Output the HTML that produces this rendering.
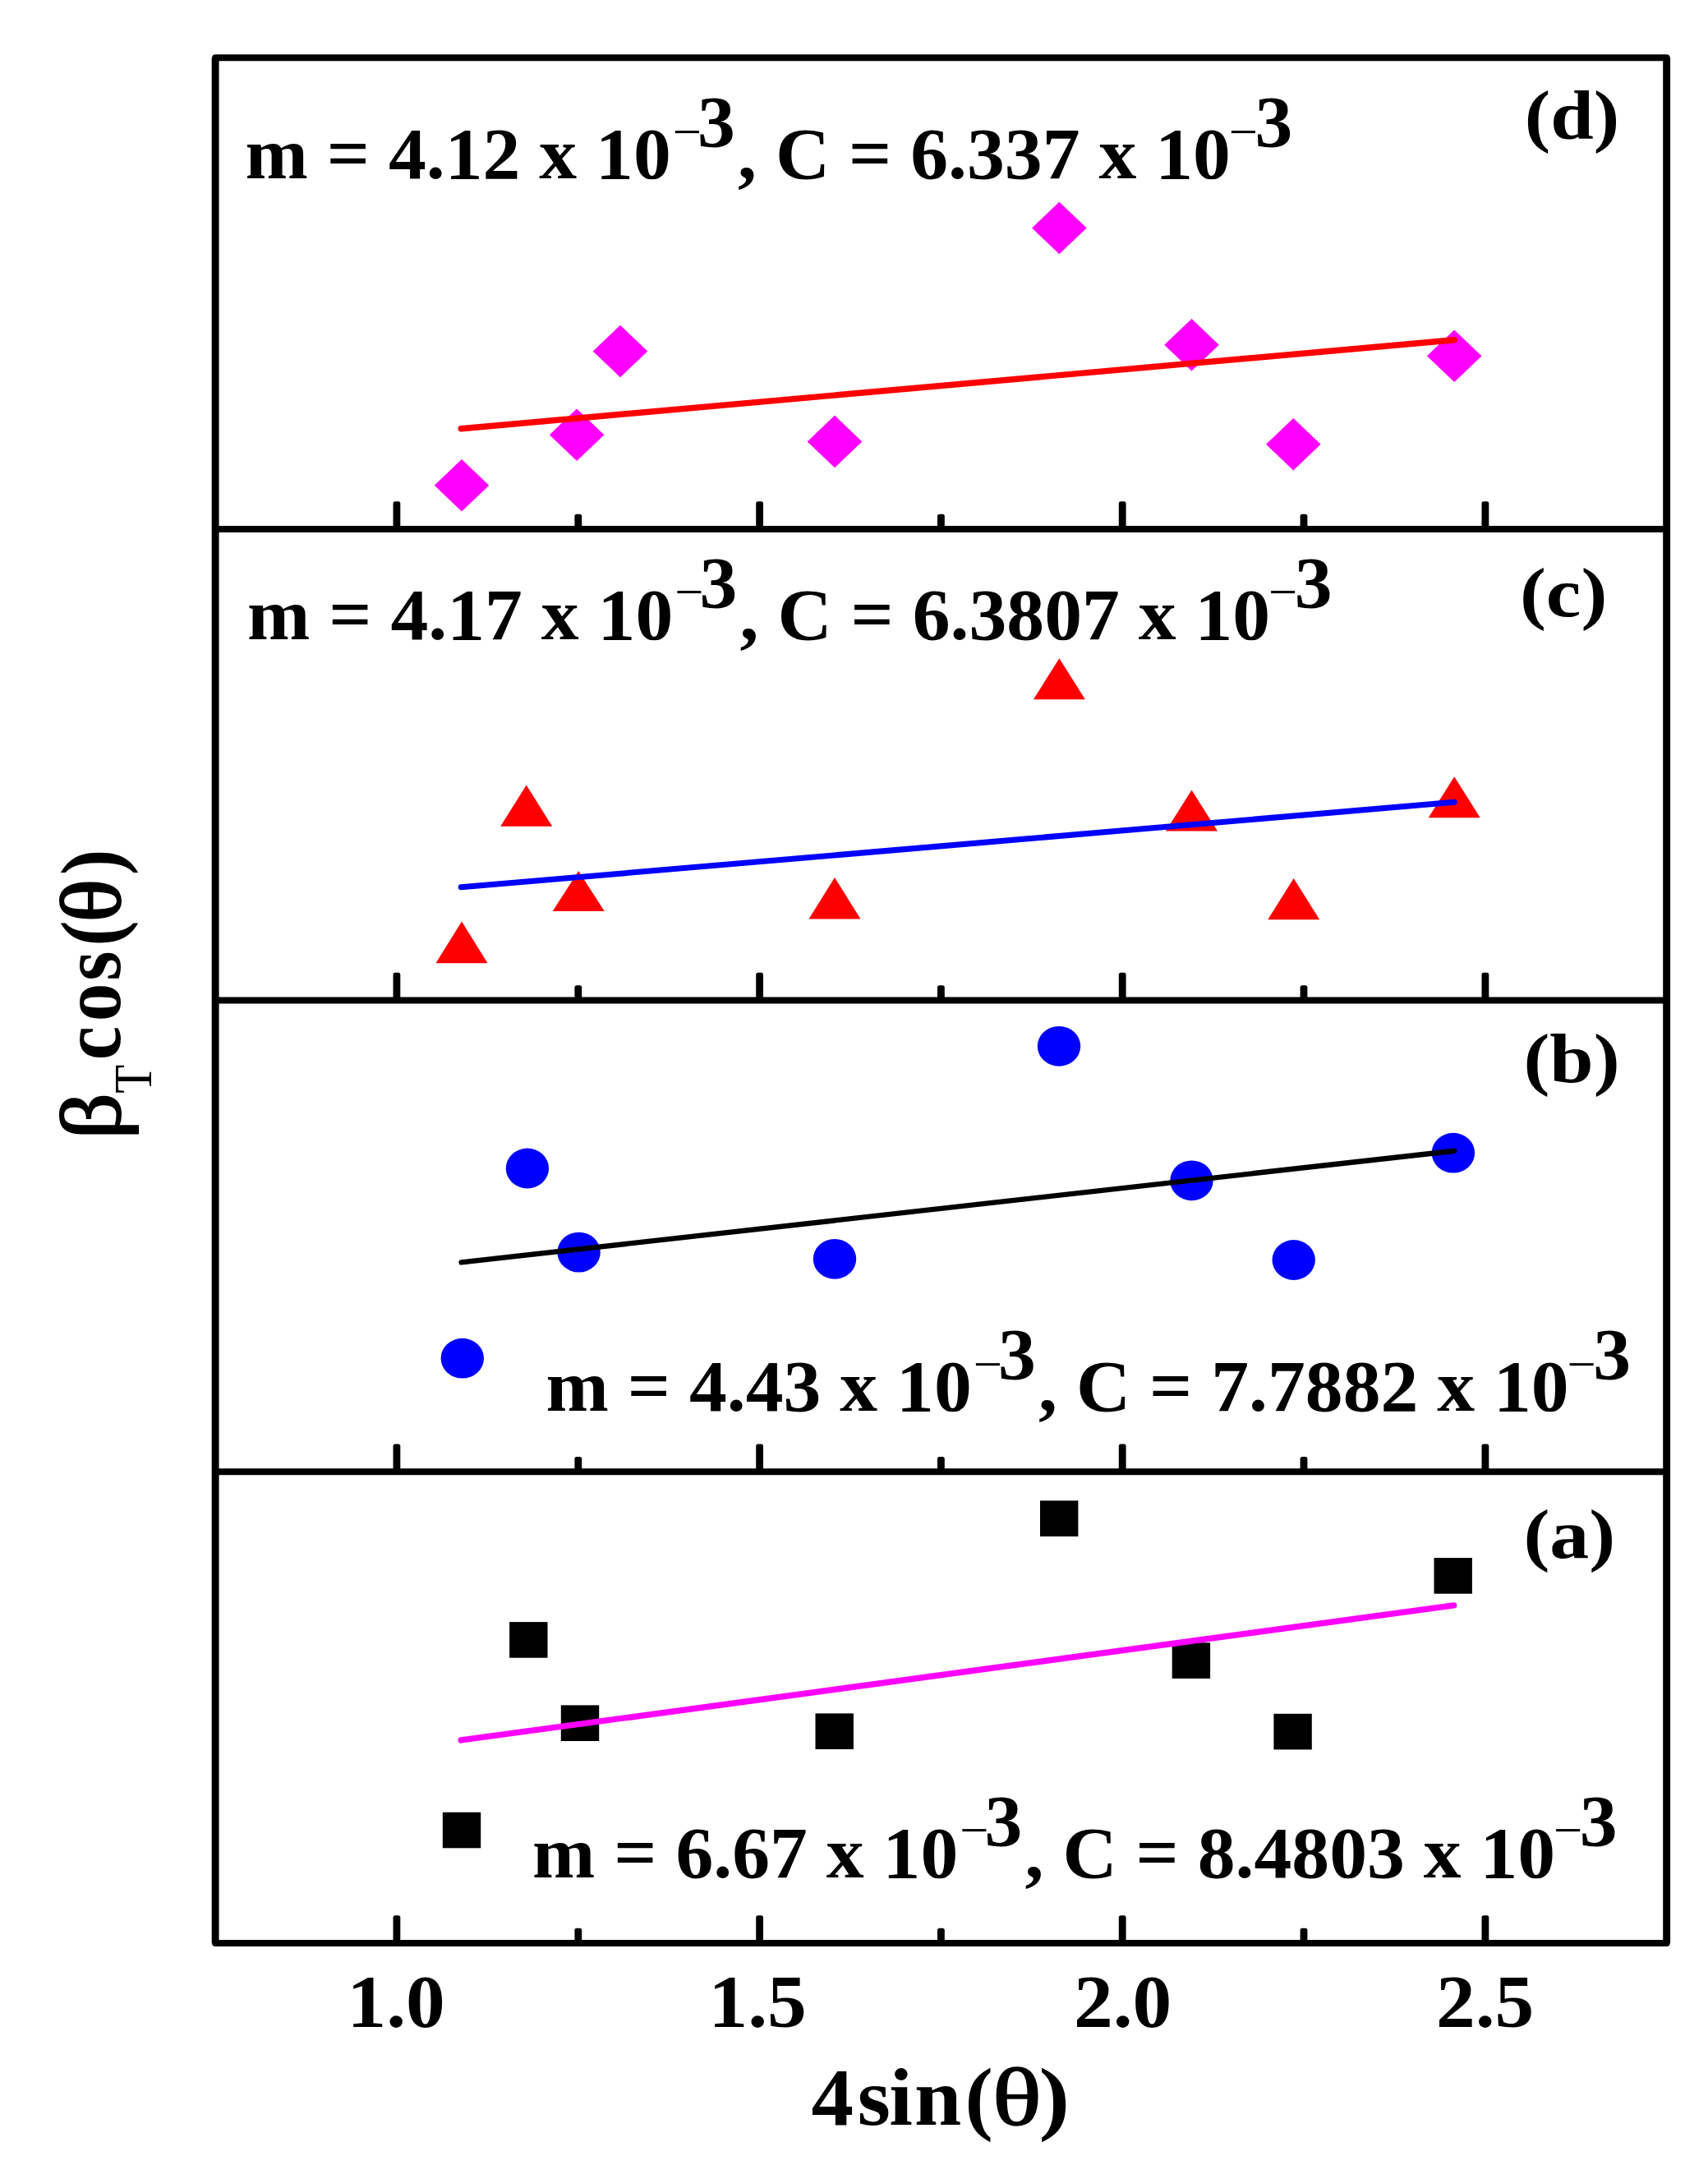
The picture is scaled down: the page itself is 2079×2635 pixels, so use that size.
<!DOCTYPE html>
<html lang="en"><head><meta charset="utf-8"><title>Williamson-Hall plot</title>
<style>html,body{margin:0;padding:0;background:#fff}svg{display:block}</style>
</head><body>
<svg width="2079" height="2635" viewBox="0 0 2079 2635">
<rect x="0" y="0" width="2079" height="2635" fill="#ffffff"/>
<g fill="#ff00ff">
<polygon points="528.7,590.7 562.0,558.9 595.3,590.7 562.0,622.5"/>
<polygon points="668.8,529.2 702.1,497.4 735.4,529.2 702.1,561.0"/>
<polygon points="721.7,427.5 755.0,395.7 788.3,427.5 755.0,459.3"/>
<polygon points="982.7,537.4 1016.0,505.6 1049.3,537.4 1016.0,569.2"/>
<polygon points="1256.1,277.5 1289.4,245.7 1322.7,277.5 1289.4,309.3"/>
<polygon points="1417.2,419.8 1450.5,388.0 1483.8,419.8 1450.5,451.6"/>
<polygon points="1541.0,540.7 1574.3,508.9 1607.6,540.7 1574.3,572.5"/>
<polygon points="1736.9,433.3 1770.2,401.5 1803.5,433.3 1770.2,465.1"/>
</g>
<g fill="#ff0000">
<polygon points="562.0,1121.4 593.5,1172.2 530.5,1172.2"/>
<polygon points="640.7,955.4 672.2,1005.8 609.2,1005.8"/>
<polygon points="704.2,1059.9 735.7,1109.1 672.7,1109.1"/>
<polygon points="1016.0,1068.1 1047.5,1118.5 984.5,1118.5"/>
<polygon points="1289.4,801.3 1320.9,851.3 1257.9,851.3"/>
<polygon points="1450.5,961.6 1482.0,1011.6 1419.0,1011.6"/>
<polygon points="1574.7,1068.9 1606.2,1119.3 1543.2,1119.3"/>
<polygon points="1770.2,945.2 1801.7,995.2 1738.7,995.2"/>
</g>
<g fill="#0000ff">
<ellipse cx="562.8" cy="1653.2" rx="26.2" ry="24.4"/>
<ellipse cx="641.9" cy="1422.0" rx="26.2" ry="24.4"/>
<ellipse cx="704.6" cy="1524.1" rx="26.2" ry="24.4"/>
<ellipse cx="1016.0" cy="1532.3" rx="26.2" ry="24.4"/>
<ellipse cx="1289.0" cy="1273.3" rx="26.2" ry="24.4"/>
<ellipse cx="1450.5" cy="1436.8" rx="26.2" ry="24.4"/>
<ellipse cx="1574.7" cy="1533.5" rx="26.2" ry="24.4"/>
<ellipse cx="1768.9" cy="1403.2" rx="26.2" ry="24.4"/>
</g>
<g fill="#000000">
<rect x="538.8" y="2205.7" width="46.4" height="43.6"/>
<rect x="620.1" y="1974.1" width="46.4" height="43.6"/>
<rect x="682.8" y="2075.4" width="46.4" height="43.6"/>
<rect x="992.5" y="2085.4" width="46.4" height="43.6"/>
<rect x="1266.0" y="1826.4" width="46.4" height="43.6"/>
<rect x="1426.7" y="1999.3" width="46.4" height="43.6"/>
<rect x="1550.4" y="2085.8" width="46.4" height="43.6"/>
<rect x="1745.5" y="1896.1" width="46.4" height="43.6"/>
</g>
<g fill="none" stroke-width="7.2" stroke-linecap="round">
<line x1="561.2" y1="521.7" x2="1770.2" y2="413.7" stroke="#ff0000" stroke-width="7.4"/>
<line x1="561.2" y1="1079.8" x2="1770.2" y2="976.3" stroke="#0000ff" stroke-width="7.0"/>
<line x1="561.6" y1="1536.4" x2="1770.2" y2="1400.7" stroke="#000000" stroke-width="6.4"/>
<line x1="561.2" y1="2117.9" x2="1769.6" y2="1953.9" stroke="#ff00ff" stroke-width="7.4"/>
</g>
<g fill="none" stroke="#000">
<rect x="262.1" y="70.3" width="1766.6" height="2294.8" stroke-width="8" stroke-linejoin="round"/>
<line x1="262.1" y1="70.3" x2="262.1" y2="2365.1" stroke-width="8.8"/>
<line x1="2028.7" y1="70.3" x2="2028.7" y2="2365.1" stroke-width="8.8"/>
<line x1="262.1" y1="644.1" x2="2028.7" y2="644.1" stroke-width="8"/>
<line x1="262.1" y1="1217.6" x2="2028.7" y2="1217.6" stroke-width="8"/>
<line x1="262.1" y1="1791.3" x2="2028.7" y2="1791.3" stroke-width="8"/>
</g>
<g fill="#000">
<rect x="478.5" y="610.3" width="8.8" height="33.8" rx="2.6"/>
<rect x="920.2" y="610.3" width="8.8" height="33.8" rx="2.6"/>
<rect x="1361.8" y="610.3" width="8.8" height="33.8" rx="2.6"/>
<rect x="1803.5" y="610.3" width="8.8" height="33.8" rx="2.6"/>
<rect x="699.4" y="625.7" width="8.8" height="18.4" rx="2.6"/>
<rect x="1141.0" y="625.7" width="8.8" height="18.4" rx="2.6"/>
<rect x="1582.6" y="625.7" width="8.8" height="18.4" rx="2.6"/>
<rect x="478.5" y="1183.8" width="8.8" height="33.8" rx="2.6"/>
<rect x="920.2" y="1183.8" width="8.8" height="33.8" rx="2.6"/>
<rect x="1361.8" y="1183.8" width="8.8" height="33.8" rx="2.6"/>
<rect x="1803.5" y="1183.8" width="8.8" height="33.8" rx="2.6"/>
<rect x="699.4" y="1199.2" width="8.8" height="18.4" rx="2.6"/>
<rect x="1141.0" y="1199.2" width="8.8" height="18.4" rx="2.6"/>
<rect x="1582.6" y="1199.2" width="8.8" height="18.4" rx="2.6"/>
<rect x="478.5" y="1757.5" width="8.8" height="33.8" rx="2.6"/>
<rect x="920.2" y="1757.5" width="8.8" height="33.8" rx="2.6"/>
<rect x="1361.8" y="1757.5" width="8.8" height="33.8" rx="2.6"/>
<rect x="1803.5" y="1757.5" width="8.8" height="33.8" rx="2.6"/>
<rect x="699.4" y="1772.9" width="8.8" height="18.4" rx="2.6"/>
<rect x="1141.0" y="1772.9" width="8.8" height="18.4" rx="2.6"/>
<rect x="1582.6" y="1772.9" width="8.8" height="18.4" rx="2.6"/>
<rect x="478.5" y="2331.3" width="8.8" height="33.8" rx="2.6"/>
<rect x="920.2" y="2331.3" width="8.8" height="33.8" rx="2.6"/>
<rect x="1361.8" y="2331.3" width="8.8" height="33.8" rx="2.6"/>
<rect x="1803.5" y="2331.3" width="8.8" height="33.8" rx="2.6"/>
<rect x="699.4" y="2346.7" width="8.8" height="18.4" rx="2.6"/>
<rect x="1141.0" y="2346.7" width="8.8" height="18.4" rx="2.6"/>
<rect x="1582.6" y="2346.7" width="8.8" height="18.4" rx="2.6"/>
</g>
<g font-family="'Liberation Serif', 'DejaVu Serif', serif" fill="#000">
<text transform="translate(298.5,217.2) scale(1.042,1.015)" font-size="88" font-weight="bold" xml:space="preserve">m = 4.12 x 10<tspan font-size="60" font-weight="normal" dx="2" dy="-36.1">−</tspan><tspan dx="-5" dy="-2.3">3</tspan><tspan dx="3.2" dy="38.4">, C = 6.337 x 10</tspan><tspan font-size="60" font-weight="normal" dx="-2" dy="-36.1">−</tspan><tspan dx="-3.5" dy="-2.3">3</tspan></text>
<text transform="translate(301.0,778.0) scale(1.042,1.015)" font-size="88" font-weight="bold" xml:space="preserve">m = 4.17 x 10<tspan font-size="60" font-weight="normal" dx="2" dy="-36.1">−</tspan><tspan dx="-5" dy="-2.3">3</tspan><tspan dx="3.2" dy="38.4">, C = 6.3807 x 10</tspan><tspan font-size="60" font-weight="normal" dx="-2" dy="-36.1">−</tspan><tspan dx="-3.5" dy="-2.3">3</tspan></text>
<text transform="translate(664.5,1717.3) scale(1.042,1.015)" font-size="88" font-weight="bold" xml:space="preserve">m = 4.43 x 10<tspan font-size="60" font-weight="normal" dx="2" dy="-36.1">−</tspan><tspan dx="-5" dy="-2.3">3</tspan><tspan dx="3.2" dy="38.4">, C = 7.7882 x 10</tspan><tspan font-size="60" font-weight="normal" dx="-2" dy="-36.1">−</tspan><tspan dx="-3.5" dy="-2.3">3</tspan></text>
<text transform="translate(648.0,2284.6) scale(1.042,1.015)" font-size="88" font-weight="bold" xml:space="preserve">m = 6.67 x 10<tspan font-size="60" font-weight="normal" dx="2" dy="-36.1">−</tspan><tspan dx="-5" dy="-2.3">3</tspan><tspan dx="3.2" dy="38.4">, C = 8.4803 x 10</tspan><tspan font-size="60" font-weight="normal" dx="-2" dy="-36.1">−</tspan><tspan dx="-3.5" dy="-2.3">3</tspan></text>
<text transform="translate(1855.8,168.6) scale(1.073,0.97)" font-size="88" font-weight="bold">(d)</text>
<text transform="translate(1849.9,749.7) scale(1.09,0.97)" font-size="88" font-weight="bold">(c)</text>
<text transform="translate(1854.4,1317.0) scale(1.09,0.97)" font-size="88" font-weight="bold">(b)</text>
<text transform="translate(1854.4,1896.0) scale(1.09,0.97)" font-size="88" font-weight="bold">(a)</text>
<text transform="translate(422.4,2466.8) scale(1.085,1.03)" font-size="88" font-weight="bold">1.0</text>
<text transform="translate(862.4,2466.8) scale(1.085,1.03)" font-size="88" font-weight="bold">1.5</text>
<text transform="translate(1306.9,2466.8) scale(1.085,1.03)" font-size="88" font-weight="bold">2.0</text>
<text transform="translate(1747.9,2466.8) scale(1.085,1.03)" font-size="88" font-weight="bold">2.5</text>
<text transform="translate(987.5,2586.3) scale(1.03,1)" font-size="100" font-weight="bold" x="0.0 54.6 92.1 121.8 181.5">4sin(</text>
<text transform="translate(1207.7,2586.3) scale(1.255,1)" font-size="100" font-weight="normal" stroke="#000" stroke-width="1.6">θ</text>
<text transform="translate(1264.4,2586.3) scale(1.129,1)" font-size="100" font-weight="bold">)</text>
<text transform="translate(146.3,1386.4) scale(1.045,1.110) rotate(-90)" font-size="100" font-weight="normal" stroke="#000" stroke-width="2.0" x="0.0">β</text>
<text transform="translate(184.3,1330.8) scale(1.045,0.924) rotate(-90)" font-size="62" font-weight="normal" x="0.0">T</text>
<text transform="translate(146.3,1290.3) scale(1.045,0.930) rotate(-90)" font-size="100" font-weight="bold" x="0.0 50.7 103.7 149.2">cos(</text>
<text transform="translate(146.3,1122.5) scale(1.045,1.096) rotate(-90)" font-size="100" font-weight="normal" stroke="#000" stroke-width="2.0" x="0.0">θ</text>
<text transform="translate(146.3,1065.0) scale(1.045,0.942) rotate(-90)" font-size="100" font-weight="bold" x="-0.0">)</text>
</g>
</svg>
</body></html>
